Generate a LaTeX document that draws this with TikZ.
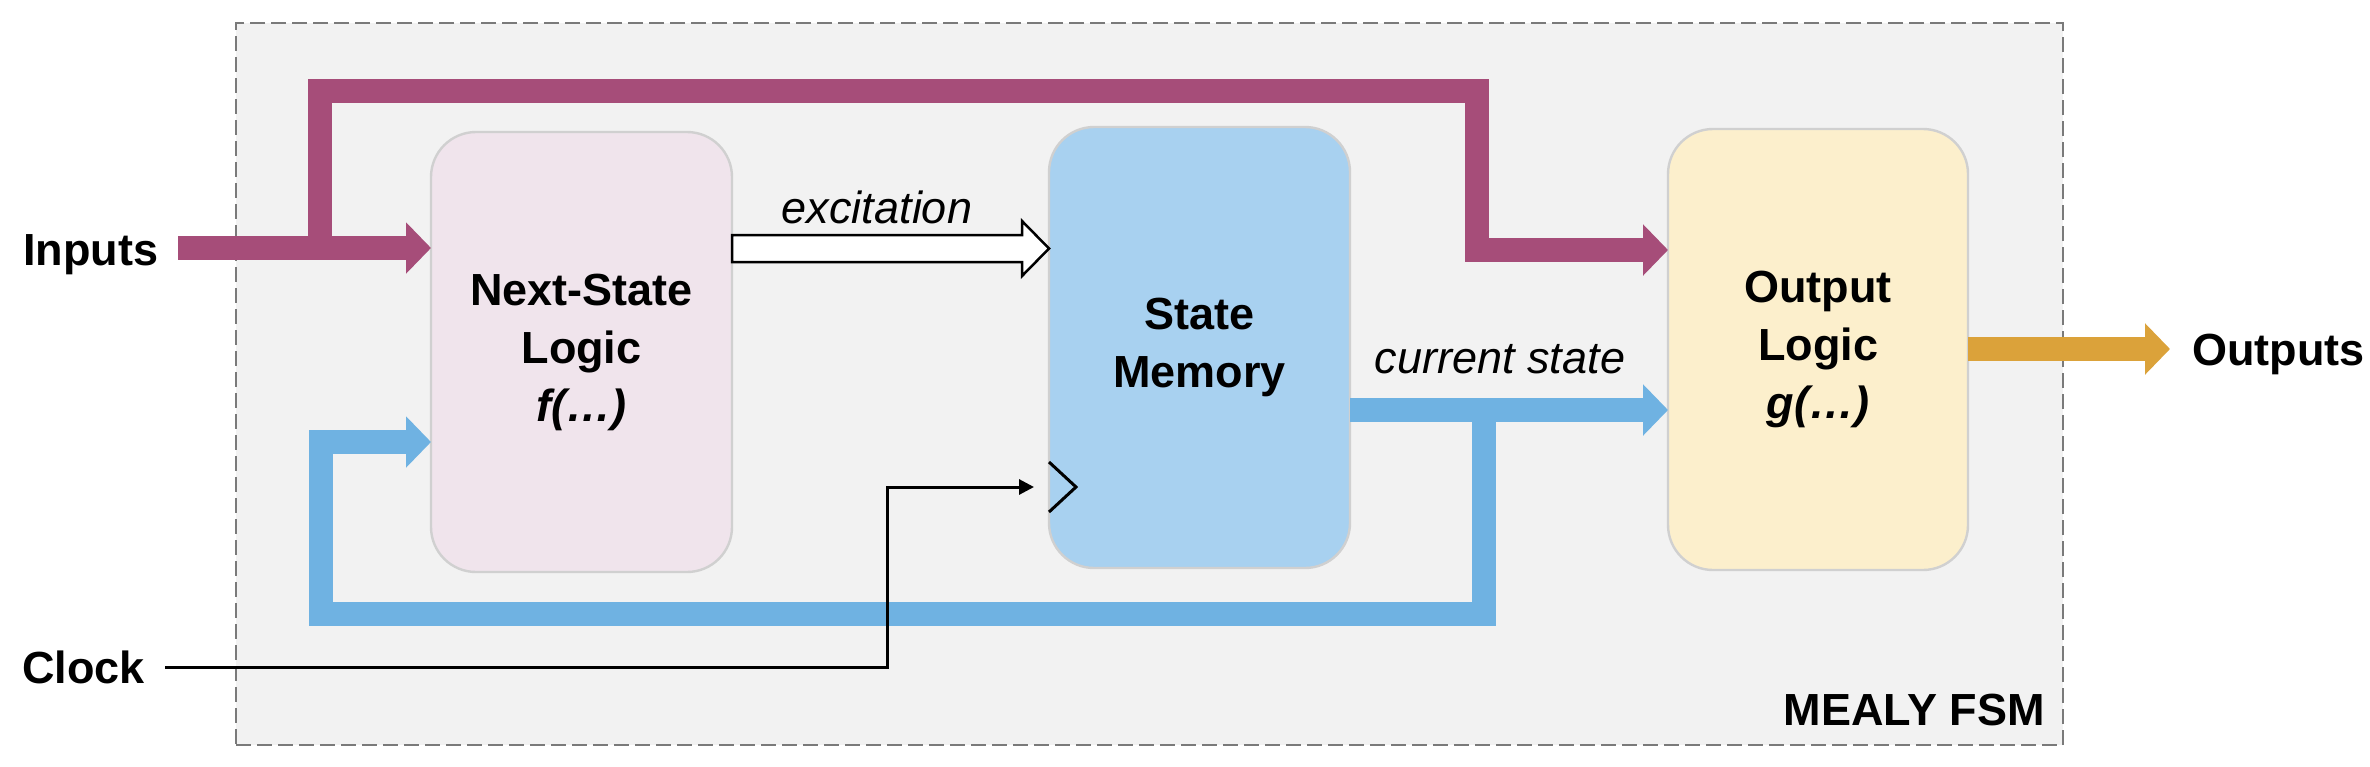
\documentclass[tikz,border=0pt]{standalone}
\usepackage{fontspec}
\setmainfont{Liberation Sans}
\usetikzlibrary{arrows.meta,calc}
\definecolor{mag}{HTML}{A64D79}
\definecolor{blu}{HTML}{6FB2E2}
\definecolor{gold}{HTML}{DBA23A}
\definecolor{pinkfill}{HTML}{F0E4EC}
\definecolor{bluefill}{HTML}{A8D1F0}
\definecolor{yelfill}{HTML}{FCEFCC}
\definecolor{framefill}{HTML}{F2F2F2}
\definecolor{framedraw}{HTML}{7A7A7A}
\definecolor{boxdraw}{HTML}{D0D0D0}
\begin{document}
\begin{tikzpicture}[x=0.5pt,y=-0.5pt,
  fsmframe/.style={draw=framedraw, fill=framefill, line width=1.2pt, dash pattern=on 7.5pt off 3pt, minimum width=913.5pt, minimum height=361pt, inner sep=0pt, outer sep=0pt},
  blk/.style={rounded corners=22.5pt, draw=boxdraw, line width=1.2pt, minimum width=150.5pt, minimum height=220pt, inner sep=0pt, outer sep=0pt, align=center, font=\bfseries\fontsize{22.5}{29}\selectfont},
  lbl/.style={inner sep=0pt, font=\bfseries\fontsize{22.5}{27}\selectfont},
  itl/.style={inner sep=0pt, font=\itshape\fontsize{22.5}{27}\selectfont},
  bigtip/.style={-{Triangle[length=12.5pt,width=25pt]}},
  magline/.style={draw=mag, line width=12pt},
  bluline/.style={draw=blu, line width=12pt},
  goldline/.style={draw=gold, line width=12pt},
  clkline/.style={draw=black, line width=1.5pt},
  excarrow/.style={draw=black, fill=white, line width=1.25pt, line join=miter}
]
\useasboundingbox (0,0) rectangle (2370,766);

% frame
\node[fsmframe] (fsm) at (1149.5,384) {};
\node[lbl, anchor=base east] (mealy) at (2045,725) {MEALY FSM};

% blocks
\node[blk, fill=pinkfill] (nsl) at (581.5,352) {Next-State\\Logic\\\textit{f(…)}};
\node[blk, fill=bluefill, minimum height=220.5pt] (sm) at (1199.5,347.5) {State\\Memory};
\node[blk, fill=yelfill, minimum width=150pt, minimum height=220.5pt] (ol) at (1818,349.5) {Output\\Logic\\\textit{g(…)}};

% outside labels
\node[lbl, anchor=base west] (inputs) at (23,265) {Inputs};
\node[lbl, anchor=base west] (clock) at (22,683) {Clock};
\node[lbl, anchor=base west] (outputs) at (2192,365) {Outputs};
\node[itl, anchor=base] (exl) at (877,223) {excitation};
\node[itl, anchor=base] (csl) at (1500,373) {current state};

% helper coordinates
\coordinate (yIn) at (0,248);
\coordinate (yMag) at (0,250);
\coordinate (yCS) at (0,410);
\coordinate (yFb) at (0,442);
\coordinate (yClk) at (0,487);
\coordinate (yOut) at (0,349);
\coordinate (inS) at (178,248);
\coordinate (mb0) at (320,248);
\coordinate (mtr) at (1477,91);
\coordinate (fb0) at (1484,410);
\coordinate (fbl) at (321,614);
\coordinate (ck0) at (165,667);
\coordinate (ckc) at (887,487);
\coordinate (outT) at (2170,349);

% magenta inputs
\draw[magline, bigtip] (inS) -- (nsl.west |- yIn);
\draw[magline, bigtip] (mb0) |- (mtr) |- (ol.west |- yMag);

% blue current state
\draw[bluline, bigtip] (sm.east |- yCS) -- (ol.west |- yCS);
\draw[bluline, bigtip] (fb0) |- (fbl) |- (nsl.west |- yFb);

% excitation hollow arrow
\draw[excarrow] (nsl.east |- 0,235) -- (1022,235) -- (1022,221) -- (sm.west |- 0,248.5) -- (1022,276) -- (1022,262) -- (nsl.east |- 0,262) -- cycle;

% clock
\draw[clkline, -{Triangle[length=7.5pt,width=7.5pt]}, shorten >=7.5pt] (ck0) -| (ckc) -- (sm.west |- yClk);
\draw[clkline, line join=miter] (1049,462) -- (1076,487) -- (1049,512);

% outputs
\draw[goldline, bigtip] (ol.east |- yOut) -- (outT);
\end{tikzpicture}
\end{document}
